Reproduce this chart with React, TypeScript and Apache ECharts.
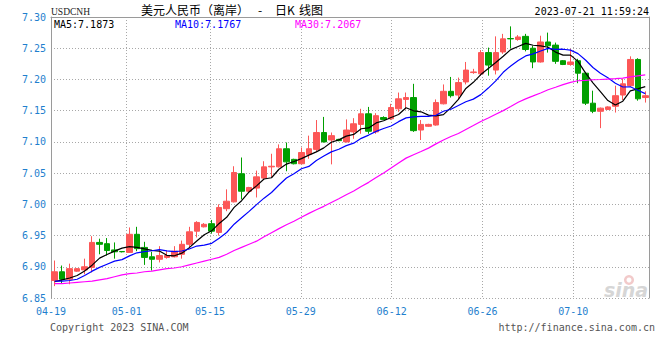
import React, { useEffect, useRef } from 'react';
import * as echarts from 'echarts';

const dates = [
  '04-19','04-20','04-21','04-22','04-24','04-25','04-26','04-27','04-28','04-29',
  '05-01','05-02','05-03','05-04','05-05','05-06','05-08','05-09','05-10','05-11',
  '05-13','05-15','05-16','05-17','05-18','05-19','05-20','05-22','05-23','05-24',
  '05-25','05-26','05-27','05-29','05-30','05-31','06-01','06-02','06-03','06-05',
  '06-06','06-07','06-08','06-09','06-10','06-12','06-13','06-14','06-15','06-16',
  '06-17','06-19','06-20','06-21','06-22','06-23','06-24','06-26','06-27','06-28',
  '06-29','06-30','07-01','07-03','07-04','07-05','07-06','07-07','07-08','07-10',
  '07-11','07-12','07-13','07-14','07-15','07-17','07-18','07-19','07-20','07-21',
];

const opens = [
  6.878, 6.892, 6.880, 6.893, 6.895, 6.899, 6.939, 6.937, 6.927, 6.9245,
  6.923, 6.952, 6.931, 6.916, 6.912, 6.915, 6.916, 6.920, 6.936, 6.957,
  6.964, 6.969, 6.955, 6.993, 7.004, 7.049, 7.021, 7.026, 7.042, 7.060,
  7.060, 7.089, 7.072, 7.065, 7.080, 7.088, 7.115, 7.103, 7.104, 7.100,
  7.116, 7.128, 7.145, 7.116, 7.139, 7.137, 7.153, 7.168, 7.171, 7.119,
  7.125, 7.127, 7.161, 7.181, 7.175, 7.196, 7.211, 7.209, 7.243, 7.215,
  7.244, 7.2655, 7.264, 7.269, 7.250, 7.228, 7.260, 7.255, 7.230, 7.224,
  7.230, 7.210, 7.162, 7.149, 7.152, 7.157, 7.175, 7.190, 7.232, 7.171,
];
const closes = [
  6.892, 6.880, 6.897, 6.897, 6.900, 6.939, 6.936, 6.926, 6.924, 6.924,
  6.952, 6.929, 6.915, 6.912, 6.918, 6.918, 6.925, 6.936, 6.956, 6.971,
  6.968, 6.957, 6.995, 7.005, 7.051, 7.021, 7.027, 7.044, 7.060, 7.061,
  7.089, 7.068, 7.065, 7.083, 7.089, 7.115, 7.100, 7.110, 7.102, 7.119,
  7.129, 7.145, 7.117, 7.142, 7.136, 7.155, 7.169, 7.171, 7.118, 7.128,
  7.128, 7.163, 7.181, 7.174, 7.195, 7.215, 7.212, 7.243, 7.223, 7.243,
  7.265, 7.265, 7.268, 7.248, 7.228, 7.260, 7.254, 7.229, 7.224, 7.228,
  7.210, 7.162, 7.149, 7.154, 7.156, 7.174, 7.193, 7.232, 7.169, 7.174,
];
const lows = [
  6.869, 6.873, 6.872, 6.892, 6.888, 6.891, 6.920, 6.918, 6.913, 6.923,
  6.923, 6.925, 6.903, 6.894, 6.907, 6.913, 6.915, 6.913, 6.931, 6.947,
  6.963, 6.953, 6.950, 6.989, 7.003, 7.008, 7.020, 7.011, 7.041, 7.043,
  7.059, 7.053, 7.064, 7.064, 7.073, 7.084, 7.099, 7.064, 7.101, 7.099,
  7.105, 7.113, 7.113, 7.113, 7.135, 7.135, 7.148, 7.152, 7.116, 7.103,
  7.124, 7.126, 7.160, 7.171, 7.167, 7.192, 7.209, 7.206, 7.206, 7.208,
  7.241, 7.250, 7.262, 7.245, 7.218, 7.227, 7.243, 7.225, 7.223, 7.222,
  7.194, 7.159, 7.146, 7.122, 7.151, 7.147, 7.167, 7.188, 7.166, 7.163,
];
const highs = [
  6.910, 6.902, 6.905, 6.898, 6.913, 6.949, 6.945, 6.946, 6.939, 6.925,
  6.963, 6.964, 6.940, 6.924, 6.933, 6.926, 6.933, 6.942, 6.964, 6.973,
  6.970, 6.975, 7.000, 7.024, 7.061, 7.075, 7.028, 7.054, 7.069, 7.081,
  7.096, 7.099, 7.073, 7.091, 7.110, 7.135, 7.140, 7.115, 7.105, 7.136,
  7.138, 7.153, 7.156, 7.146, 7.141, 7.161, 7.179, 7.179, 7.193, 7.135,
  7.129, 7.168, 7.192, 7.204, 7.203, 7.228, 7.217, 7.247, 7.251, 7.269,
  7.273, 7.285, 7.271, 7.273, 7.254, 7.270, 7.275, 7.259, 7.231, 7.249,
  7.233, 7.212, 7.182, 7.155, 7.157, 7.190, 7.201, 7.237, 7.234, 7.181,
];

// Moving-average values before a full window is available
const ma5Head = [6.876, 6.879, 6.882, 6.886];
const ma10Head = [6.877, 6.877, 6.878, 6.880, 6.886, 6.893, 6.899, 6.904, 6.909];
const ma30Head = [
  6.873, 6.873, 6.874, 6.875, 6.876, 6.877, 6.879, 6.881, 6.884, 6.887,
  6.889, 6.890, 6.892, 6.893, 6.895, 6.897, 6.898, 6.900, 6.903, 6.906,
  6.909, 6.912, 6.915, 6.920, 6.926, 6.931, 6.936, 6.941, 6.948,
];

const tickDates = ['04-19', '05-01', '05-15', '05-29', '06-12', '06-26', '07-10'];
const legendNames = ['MA5', 'MA10', 'MA30'];
const legendValues = ['7.1873', '7.1767', '7.2067'];
const yMin = 6.85;
const yMax = 7.3;
const yStep = 0.05;

const RED = '#fc5757';
const GREEN = '#009f00';
const AXIS_BLUE = '#1f7fce';
const MONO = '"DejaVu Sans Mono", monospace';

function movingAverage(n: number, head: number[]) {
  return closes.map((_, i) => {
    if (i < n - 1) return head[i];
    let s = 0;
    for (let k = i - n + 1; k <= i; k++) s += closes[k];
    return +(s / n).toFixed(4);
  });
}

export default function App() {
  const ref = useRef<HTMLDivElement>(null);
  useEffect(() => {
    const chart = echarts.init(ref.current!, null, { renderer: 'svg' });
    const tickSet = new Set(tickDates);
    const ma5 = movingAverage(5, ma5Head);
    const ma10 = movingAverage(10, ma10Head);
    const ma30 = movingAverage(30, ma30Head);
    const candles = dates.map((_, i) => [opens[i], closes[i], lows[i], highs[i]]);
    const lineColors = ['#000000', '#0000ff', '#ff00ff'];
    const legendX = [54, 175, 295];

    const option: any = {
      animation: false,
      backgroundColor: '#ffffff',
      grid: { left: 51, right: 11, top: 17, bottom: 62 },
      xAxis: [
        {
          type: 'category',
          data: dates,
          boundaryGap: true,
          position: 'top',
          axisLine: { show: true, lineStyle: { color: '#9a9a9a', width: 1 } },
          axisTick: { show: false },
          axisLabel: { show: false },
          splitLine: { show: false },
        },
        {
          type: 'category',
          data: dates,
          boundaryGap: false,
          position: 'bottom',
          axisLine: { show: false },
          axisTick: { show: false },
          axisLabel: {
            interval: (i: number, v: string) => tickSet.has(v),
            color: AXIS_BLUE,
            fontFamily: MONO,
            fontSize: 10,
            margin: 8,
          },
          splitLine: {
            show: true,
            interval: (i: number, v: string) => tickSet.has(v),
            lineStyle: { color: '#a8a8a8', width: 1, type: [1, 2] },
          },
        },
      ],
      yAxis: [
        {
          type: 'value',
          min: yMin,
          max: yMax,
          interval: yStep,
          position: 'left',
          axisLine: { show: true, lineStyle: { color: '#9a9a9a', width: 1 } },
          axisTick: { show: false },
          axisLabel: {
            formatter: (v: number) => v.toFixed(2),
            color: AXIS_BLUE,
            fontFamily: MONO,
            fontSize: 10,
            margin: 5,
          },
          splitLine: { show: true, lineStyle: { color: '#a8a8a8', width: 1, type: [1, 2] } },
        },
        {
          type: 'value',
          min: yMin,
          max: yMax,
          interval: yStep,
          position: 'right',
          axisLine: { show: true, lineStyle: { color: '#9a9a9a', width: 1 } },
          axisTick: { show: false },
          axisLabel: { show: false },
          splitLine: { show: false },
        },
      ],
      series: [
        {
          type: 'candlestick',
          xAxisIndex: 0,
          yAxisIndex: 0,
          data: candles,
          barWidth: 6,
          itemStyle: {
            color: RED,
            color0: GREEN,
            borderColor: RED,
            borderColor0: GREEN,
            borderWidth: 1,
          },
          z: 2,
        },
        ...[ma5, ma10, ma30].map((d, k) => ({
          type: 'line',
          name: legendNames[k],
          xAxisIndex: 0,
          yAxisIndex: 0,
          data: d,
          symbol: 'none',
          showSymbol: false,
          lineStyle: { color: lineColors[k], width: 1.2 },
          z: 3,
        })),
      ],
      graphic: [
        {
          type: 'text', x: 51, y: 12,
          style: { text: 'USDCNH', font: '9.5px "Liberation Serif"', fill: '#222', textAlign: 'left', textVerticalAlign: 'middle' },
        },
        {
          type: 'text', x: 141, y: 9.5,
          style: { text: '美元人民币（离岸）', font: '12px "Noto Sans CJK SC"', fill: '#000', textAlign: 'left', textVerticalAlign: 'middle' },
        },
        {
          type: 'text', x: 258, y: 9.5,
          style: { text: '-', font: '12px "Noto Sans CJK SC"', fill: '#000', textAlign: 'left', textVerticalAlign: 'middle' },
        },
        {
          type: 'text', x: 275, y: 9.5,
          style: { text: '日K', font: '12px "Noto Sans CJK SC"', fill: '#000', textAlign: 'left', textVerticalAlign: 'middle' },
        },
        {
          type: 'text', x: 299, y: 9.5,
          style: { text: '线图', font: '12px "Noto Sans CJK SC"', fill: '#000', textAlign: 'left', textVerticalAlign: 'middle' },
        },
        {
          type: 'text', x: 649, y: 11,
          style: { text: '2023-07-21 11:59:24', font: '10px ' + MONO, fill: '#000', textAlign: 'right', textVerticalAlign: 'middle' },
        },
        ...legendNames.map((n, k) => ({
          type: 'text', x: legendX[k], y: 24, z: 10,
          style: { text: n + ':' + legendValues[k], font: '10px ' + MONO, fill: lineColors[k], textAlign: 'left', textVerticalAlign: 'middle' },
        })),
        {
          type: 'text', x: 50, y: 327,
          style: { text: 'Copyright 2023 SINA.COM', font: '10px ' + MONO, fill: '#555', textAlign: 'left', textVerticalAlign: 'middle' },
        },
        {
          type: 'text', x: 655, y: 327,
          style: { text: 'http://finance.sina.com.cn', font: '10px ' + MONO, fill: '#555', textAlign: 'right', textVerticalAlign: 'middle' },
        },
        {
          type: 'ring', shape: { cx: 629, cy: 280, r: 5, r0: 2.5 }, z: 0,
          style: { fill: '#f2caca' },
        },
        {
          type: 'text', x: 626, y: 290, z: 0,
          style: { text: 'sina', font: 'italic bold 19px "DejaVu Sans"', fill: '#d6d6d6', textAlign: 'center', textVerticalAlign: 'middle' },
        },
      ],
    };
    chart.setOption(option);
    return () => chart.dispose();
  }, []);
  return (
    <div
      ref={ref}
      style={{ position: 'absolute', left: 0, top: 0, width: 660, height: 360, background: '#fff' }}
    />
  );
}
